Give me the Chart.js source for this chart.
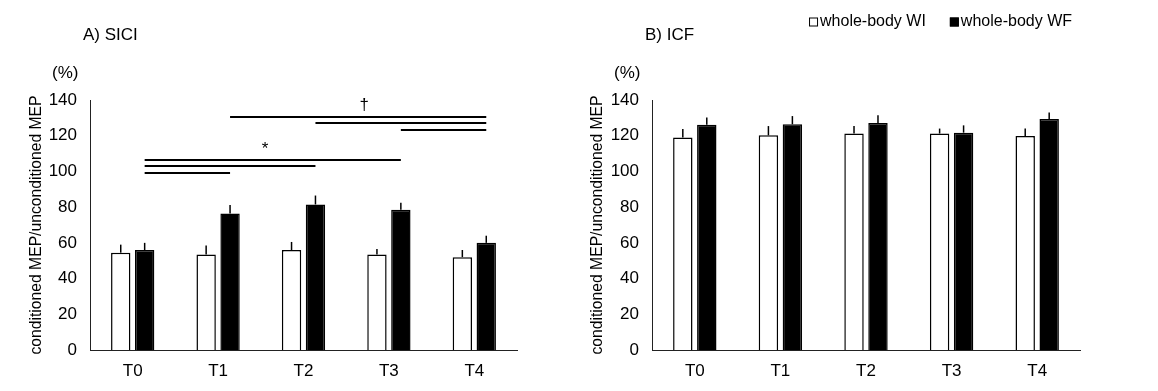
<!DOCTYPE html>
<html>
<head>
<meta charset="utf-8">
<script src="https://cdn.jsdelivr.net/npm/chart.js@4.4.1/dist/chart.umd.min.js"></script>
<style>
  body { margin: 0; background: #fff; }
  .panel { position: absolute; top: 0; height: 391px; }
  #panelA { left: 0; width: 580px; }
  #panelB { left: 580px; width: 578px; }
</style>
</head>
<body>
<div class="panel" id="panelA"><canvas id="chartA"></canvas></div>
<div class="panel" id="panelB"><canvas id="chartB"></canvas></div>
<script>
const timepoints = ['T0', 'T1', 'T2', 'T3', 'T4'];
const seriesNames = ['whole-body WI', 'whole-body WF'];
const panelTitles = ['A) SICI', 'B) ICF'];
const yAxisTitle = 'conditioned MEP/unconditioned MEP';
const unitLabel = '(%)';

// A) SICI
const siciWI = [54.5, 53.5, 56, 53.5, 52];
const siciWIErr = [4.5, 5, 4.5, 3, 4];
const siciWF = [56, 76.5, 81.5, 78.5, 60];
const siciWFErr = [4, 4.7, 5, 4, 4];

// B) ICF
const icfWI = [119, 120.2, 121.2, 121.2, 119.8];
const icfWIErr = [4.7, 5.2, 4.2, 2.8, 4.2];
const icfWF = [126.2, 126.4, 127.1, 121.7, 129.4];
const icfWFErr = [4, 4.6, 4.4, 4.1, 3.6];

const yMin = 0;
const yMax = 140;
const yStep = 20;

// significance lines in SICI (between WF bars)
const starPairs = [[0, 3], [0, 2], [0, 1]];
const starLevels = [106.5, 103, 99.4];
const daggerPairs = [[1, 4], [2, 4], [3, 4]];
const daggerLevels = [130.7, 127, 123.2];
const sigMarks = ['*', '\u2020'];
const sigMarkX = [1.55, 2.71];
const sigMarkY = [109.8, 134.3];

const FONT = "'Liberation Sans', Arial, sans-serif";

const errorBarPlugin = {
    id: 'errorBars',
    afterDatasetsDraw(chart) {
        const ctx = chart.ctx;
        const y = chart.scales.y;
        ctx.save();
        ctx.strokeStyle = '#000';
        ctx.lineWidth = 1.5;
        chart.data.datasets.forEach((ds, di) => {
            const meta = chart.getDatasetMeta(di);
            meta.data.forEach((bar, i) => {
                const top = y.getPixelForValue(ds.data[i] + ds.errors[i]);
                ctx.beginPath();
                ctx.moveTo(bar.x, bar.y);
                ctx.lineTo(bar.x, top);
                ctx.stroke();
            });
        });
        ctx.restore();
    }
};

const panelTextPlugin = {
    id: 'panelText',
    afterDraw(chart, args, opts) {
        const ctx = chart.ctx;
        const area = chart.chartArea;
        ctx.save();
        ctx.fillStyle = '#000';
        ctx.textBaseline = 'alphabetic';
        ctx.textAlign = 'left';
        ctx.font = '17px ' + FONT;
        ctx.fillText(opts.title, area.left - 7, 40);
        ctx.font = '17px ' + FONT;
        ctx.fillText(unitLabel, area.left - 38, 78);

        if (opts.sig) {
            const x = chart.scales.x;
            const y = chart.scales.y;
            const wf = chart.getDatasetMeta(1).data;
            ctx.strokeStyle = '#000';
            ctx.lineWidth = 2;
            const groups = [[starPairs, starLevels], [daggerPairs, daggerLevels]];
            groups.forEach(([pairs, levels], g) => {
                pairs.forEach((p, k) => {
                    const yy = Math.round(y.getPixelForValue(levels[k]));
                    ctx.beginPath();
                    ctx.moveTo(wf[p[0]].x, yy);
                    ctx.lineTo(wf[p[1]].x, yy);
                    ctx.stroke();
                });
                ctx.font = '17px ' + FONT;
                ctx.textAlign = 'center';
                ctx.fillText(sigMarks[g], x.getPixelForValue(sigMarkX[g]), y.getPixelForValue(sigMarkY[g]));
            });
        }

        if (opts.legend) {
            ctx.font = '16px ' + FONT;
            ctx.textAlign = 'left';
            ctx.textBaseline = 'middle';
            const box = 9, gapText = 2, gapItem = 24;
            const items = chart.data.datasets.map(ds => ({
                label: ds.label, fill: ds.backgroundColor, w: ctx.measureText(ds.label).width
            }));
            let total = 0;
            items.forEach((it, i) => { total += box + gapText + it.w + (i ? gapItem : 0); });
            let cx = area.right - 8 - total;
            const cy = 22;
            items.forEach((it, i) => {
                if (i) cx += gapItem;
                ctx.fillStyle = it.fill;
                ctx.fillRect(cx, cy - box / 2, box, box);
                ctx.strokeStyle = '#000';
                ctx.lineWidth = 1;
                ctx.strokeRect(cx + 0.5, cy - box / 2 + 0.5, box - 1, box - 1);
                cx += box + gapText;
                ctx.fillStyle = '#000';
                ctx.fillText(it.label, cx, cy);
                cx += it.w;
            });
        }
        ctx.restore();
    }
};

function makeChart(id, wi, wiErr, wf, wfErr, axisWidth, titlePad, padRight, extra) {
    return new Chart(document.getElementById(id), {
        type: 'bar',
        data: {
            labels: timepoints,
            datasets: [
                { label: seriesNames[0], data: wi, errors: wiErr, backgroundColor: '#fff',
                  borderColor: '#000', borderWidth: 1.5 },
                { label: seriesNames[1], data: wf, errors: wfErr, backgroundColor: '#000',
                  borderColor: '#000', borderWidth: 1.5 }
            ]
        },
        options: {
            responsive: true,
            maintainAspectRatio: false,
            animation: false,
            datasets: { bar: { categoryPercentage: 0.56, barPercentage: 0.81 } },
            layout: { padding: { top: 100, right: padRight, bottom: 0, left: 0 } },
            plugins: {
                legend: { display: false },
                tooltip: { enabled: false },
                panelText: extra
            },
            scales: {
                x: {
                    grid: { display: false, drawTicks: false },
                    border: { display: true, color: '#222', width: 1 },
                    ticks: { color: '#000', padding: 11, font: { family: FONT, size: 17 } },
                    afterFit(s) { s.height = 41; }
                },
                y: {
                    min: yMin,
                    max: yMax,
                    grid: { display: false, drawTicks: false },
                    border: { display: true, color: '#222', width: 1 },
                    ticks: { stepSize: yStep, color: '#000', padding: 13, font: { family: FONT, size: 17 } },
                    title: {
                        display: true, text: yAxisTitle, color: '#000',
                        font: { family: FONT, size: 15.7 }, padding: { top: titlePad, bottom: 0 }
                    },
                    afterFit(s) { s.width = axisWidth; }
                }
            }
        },
        plugins: [errorBarPlugin, panelTextPlugin]
    });
}

makeChart('chartA', siciWI, siciWIErr, siciWF, siciWFErr, 90, 27, 63,
    { title: panelTitles[0], sig: true, legend: false });
makeChart('chartB', icfWI, icfWIErr, icfWF, icfWFErr, 72, 8, 78,
    { title: panelTitles[1], sig: false, legend: true });
</script>
</body>
</html>
